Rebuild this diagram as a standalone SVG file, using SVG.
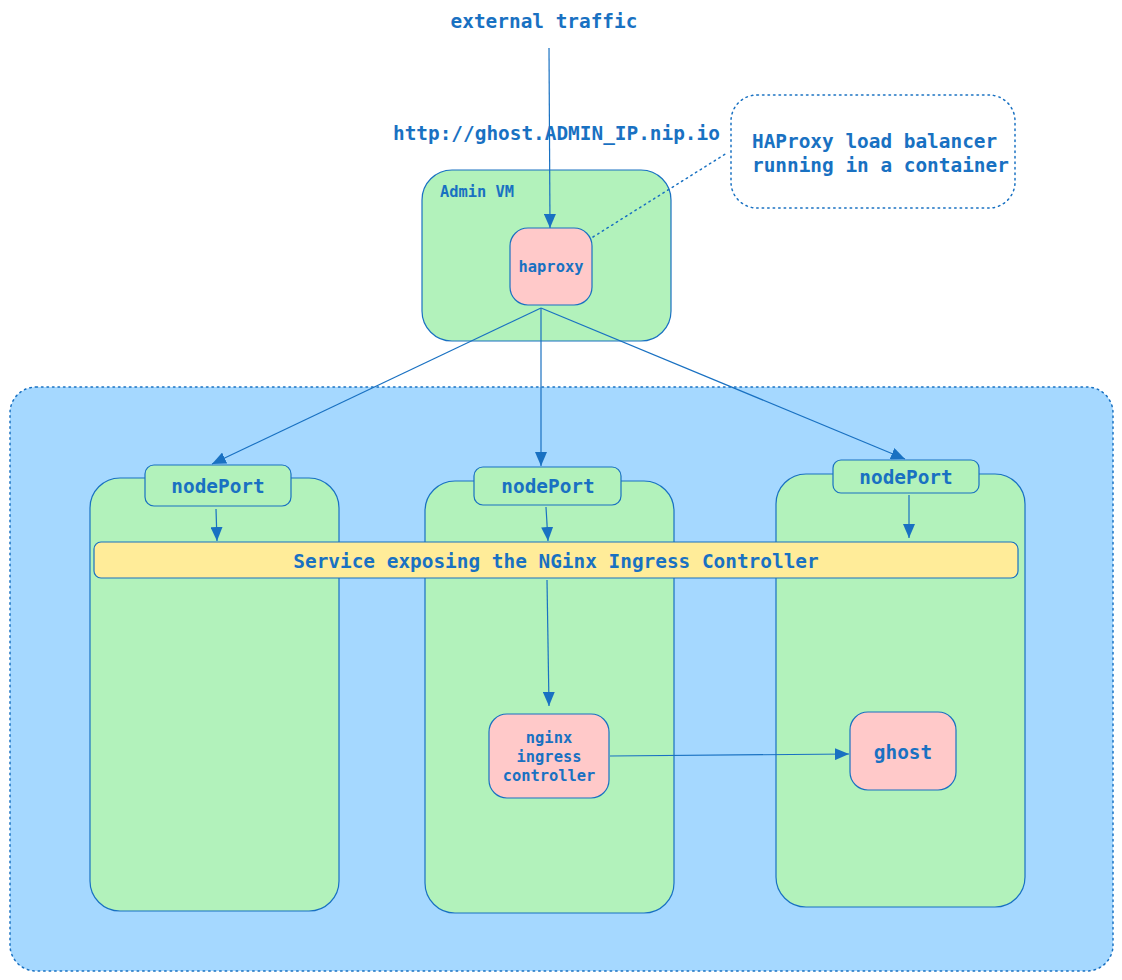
<svg xmlns="http://www.w3.org/2000/svg" width="1122" height="980" viewBox="0 0 1122 980">
<style>
text{font-family:"DejaVu Sans Mono","Liberation Mono",monospace;font-weight:bold;fill:#1971c2;}
.l{font-size:19.4px;}
.s{font-size:15.4px;}
.stk{stroke:#1971c2;stroke-width:1.2;}
.vm{fill:#b2f2bb;}
.pod{fill:#ffc9c9;}
.svc{fill:#ffec99;}
.dot{fill:none;stroke:#1971c2;stroke-width:1.5;stroke-dasharray:1.5 4;stroke-linecap:round;}
.conn{fill:none;stroke:#1971c2;stroke-width:1.2;}
</style>
<defs>
<marker id="ah" viewBox="0 0 14 12" refX="14" refY="6" markerWidth="14" markerHeight="12" markerUnits="userSpaceOnUse" orient="auto">
<path d="M0,0 L14,6 L0,12 Z" fill="#1971c2"/>
</marker>
</defs>
<rect width="1122" height="980" fill="#ffffff"/>

<g id="cluster">
<rect x="10" y="387" width="1103" height="584" rx="26" fill="#a5d8ff"/>
<rect x="10" y="387" width="1103" height="584" rx="26" class="dot"/>
</g>

<g id="note">
<rect x="731" y="95" width="284" height="113" rx="26" class="dot"/>
<text class="l" x="752" y="148">HAProxy load balancer</text>
<text class="l" x="752" y="172">running in a container</text>
</g>

<g id="admin-vm">
<rect x="422" y="170" width="249" height="171" rx="30" class="vm stk"/>
<text class="s" x="440" y="197">Admin VM</text>
</g>

<g id="haproxy">
<rect x="510" y="228" width="82" height="77" rx="18" class="pod stk"/>
<text class="s" x="551" y="272" text-anchor="middle">haproxy</text>
</g>

<g id="node1">
<rect x="90" y="478" width="249" height="433" rx="30" class="vm stk"/>
</g>
<g id="node2">
<rect x="425" y="481" width="249" height="432" rx="30" class="vm stk"/>
</g>
<g id="node3">
<rect x="776" y="474" width="249" height="433" rx="30" class="vm stk"/>
</g>

<g id="nodeport1">
<rect x="145" y="465" width="146" height="41" rx="9" class="vm stk"/>
<text class="l" x="218" y="493" text-anchor="middle">nodePort</text>
</g>
<g id="nodeport2">
<rect x="474" y="467" width="147" height="38" rx="9" class="vm stk"/>
<text class="l" x="548" y="493" text-anchor="middle">nodePort</text>
</g>
<g id="nodeport3">
<rect x="833" y="460" width="146" height="33" rx="8" class="vm stk"/>
<text class="l" x="906" y="484" text-anchor="middle">nodePort</text>
</g>

<g id="service">
<rect x="94" y="542" width="924" height="36" rx="7" class="svc stk"/>
<text class="l" x="556" y="568" text-anchor="middle">Service exposing the NGinx Ingress Controller</text>
</g>

<g id="nginx">
<rect x="489" y="714" width="120" height="84" rx="18" class="pod stk"/>
<text class="s" x="549" y="743" text-anchor="middle">nginx</text>
<text class="s" x="549" y="762" text-anchor="middle">ingress</text>
<text class="s" x="549" y="781" text-anchor="middle">controller</text>
</g>

<g id="ghost">
<rect x="850" y="712" width="106" height="78" rx="18" class="pod stk"/>
<text class="l" x="903" y="759" text-anchor="middle">ghost</text>
</g>

<g id="labels">
<text class="l" x="544" y="28" text-anchor="middle">external traffic</text>
<text class="l" x="393" y="140">http://ghost.ADMIN_IP.nip.io</text>
</g>

<g id="connectors">
<line x1="593" y1="237" x2="727" y2="153" class="dot"/>
<line x1="549" y1="48" x2="550" y2="228" class="conn" marker-end="url(#ah)"/>
<line x1="541" y1="308" x2="212" y2="464" class="conn" marker-end="url(#ah)"/>
<line x1="541" y1="308" x2="541" y2="466" class="conn" marker-end="url(#ah)"/>
<line x1="541" y1="308" x2="905" y2="459" class="conn" marker-end="url(#ah)"/>
<line x1="216" y1="509" x2="217" y2="541" class="conn" marker-end="url(#ah)"/>
<line x1="546" y1="507" x2="548" y2="541" class="conn" marker-end="url(#ah)"/>
<line x1="909" y1="495" x2="909" y2="538" class="conn" marker-end="url(#ah)"/>
<line x1="547" y1="580" x2="549" y2="706" class="conn" marker-end="url(#ah)"/>
<line x1="610" y1="756" x2="849" y2="754" class="conn" marker-end="url(#ah)"/>
</g>
</svg>
